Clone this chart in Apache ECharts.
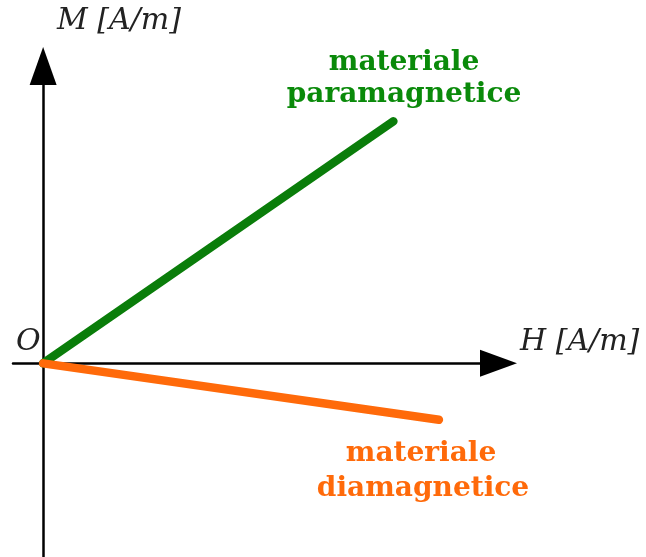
<!DOCTYPE html>
<html><head><meta charset="utf-8">
<script src="https://cdn.jsdelivr.net/npm/echarts@6/dist/echarts.min.js"></script>
<style>html,body{margin:0;padding:0;background:#fff}#c{width:646px;height:557px}</style>
</head><body><div id="c"></div>
<script>
// Data (arbitrary units, H on x, M on y)
const paraH = [0, 10];
const paraM = [0, 7];
const diaH = [0, 11.3];
const diaM = [0, -1.63];
const axisNames = { x: 'H [A/m]', y: 'M [A/m]', origin: 'O' };
const paraLabel = ['materiale', 'paramagnetice'];
const diaLabel = ['materiale', 'diamagnetice'];

const chart = echarts.init(document.getElementById('c'));
const serifIt = 'italic 30px "DejaVu Serif"';
const serifB = 'bold 28px "DejaVu Serif"';
chart.setOption({
  animation: false,
  backgroundColor: '#fff',
  grid: { left: 13, right: 147.5, top: 66, bottom: -5 },
  xAxis: {
    type: 'value', min: -0.86, max: 13,
    axisLine: { onZero: true, lineStyle: { color: '#000', width: 2.5 }, symbol: ['none', 'triangle'], symbolSize: [27, 37] },
    axisTick: { show: false }, axisLabel: { show: false }, splitLine: { show: false }
  },
  yAxis: {
    type: 'value', min: -5.6, max: 8.6,
    axisLine: { onZero: true, lineStyle: { color: '#000', width: 2.5 }, symbol: ['none', 'triangle'], symbolSize: [27, 38] },
    axisTick: { show: false }, axisLabel: { show: false }, splitLine: { show: false }
  },
  series: [
    { type: 'line', data: paraH.map((h, i) => [h, paraM[i]]), symbol: 'none',
      lineStyle: { color: '#0a7d0a', width: 8.5, cap: 'round' } },
    { type: 'line', data: diaH.map((h, i) => [h, diaM[i]]), symbol: 'none',
      lineStyle: { color: '#ff6a0a', width: 8.5, cap: 'round' } }
  ],
  graphic: [
    { type: 'text', style: { text: axisNames.y, x: 57, y: 36, font: serifIt, fill: '#222', textVerticalAlign: 'bottom' } },
    { type: 'text', style: { text: axisNames.x, x: 520, y: 357, font: serifIt, fill: '#222', textVerticalAlign: 'bottom' } },
    { type: 'text', style: { text: axisNames.origin, x: 16, y: 357, font: serifIt, fill: '#222', textVerticalAlign: 'bottom' } },
    { type: 'text', style: { text: paraLabel[0], x: 404, y: 77, font: serifB, fill: '#0a8a0a', textAlign: 'center', textVerticalAlign: 'bottom' } },
    { type: 'text', style: { text: paraLabel[1], x: 404, y: 109, font: serifB, fill: '#0a8a0a', textAlign: 'center', textVerticalAlign: 'bottom' } },
    { type: 'text', style: { text: diaLabel[0], x: 421, y: 468, font: serifB, fill: '#ff6a0a', textAlign: 'center', textVerticalAlign: 'bottom' } },
    { type: 'text', style: { text: diaLabel[1], x: 423, y: 503, font: serifB, fill: '#ff6a0a', textAlign: 'center', textVerticalAlign: 'bottom' } }
  ]
});
</script></body></html>
